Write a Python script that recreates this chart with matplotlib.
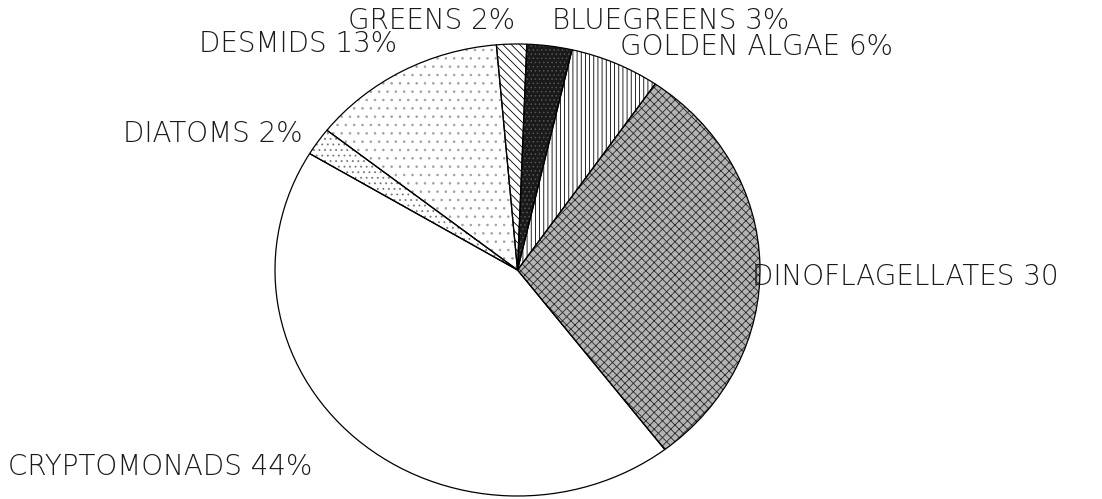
import matplotlib
matplotlib.use("Agg")
import matplotlib.pyplot as plt

categories = ["GREENS", "BLUEGREENS", "GOLDEN ALGAE", "DINOFLAGELLATES",
              "CRYPTOMONADS", "DIATOMS", "DESMIDS"]
values = [2, 3, 6, 30, 44, 2, 13]
labels = ["GREENS 2%", "BLUEGREENS 3%", "GOLDEN ALGAE 6%", "DINOFLAGELLATES 30",
          "CRYPTOMONADS 44%", "DIATOMS 2%", "DESMIDS 13%"]

faces = ["white", "#1a1a1a", "white", "#b4b4b4", "white", "white", "white"]
hatches = ["\\\\\\\\", "....", "||||", "xxxx", "", "...", ".."]
hatch_colors = ["black", "#555555", "black", "#2a2a2a", "white", "#777777", "#a0a0a0"]

plt.rcParams['hatch.linewidth'] = 0.6
W, H = 1102, 499
fig = plt.figure(figsize=(W / 100, H / 100), dpi=100)
ax = fig.add_axes([275 / W, 3 / H, 485 / W, 452 / H])

# base fills
base, _ = ax.pie(values, startangle=95, counterclock=False,
                 colors=faces, wedgeprops=dict(linewidth=0))
# hatch overlay
hat, _ = ax.pie(values, startangle=95, counterclock=False,
                wedgeprops=dict(linewidth=0, fill=False))
for w, h, c in zip(hat, hatches, hatch_colors):
    w.set_hatch(h)
    w.set_edgecolor(c)
    w.set_linewidth(0)
# outlines
outl, _ = ax.pie(values, startangle=95, counterclock=False,
                 wedgeprops=dict(linewidth=0.9, edgecolor="black", fill=False))

ax.set_aspect('auto')
ax.set_xlim(-1, 1)
ax.set_ylim(-1, 1)
ax.axis('off')

# label anchor (x px, baseline y px, alignment)
label_pos = [(515, 29, 'right'), (552, 29, 'left'), (620, 55, 'left'),
             (752, 285, 'left'), (8, 475, 'left'), (123, 142, 'left'),
             (397, 52, 'right')]
for lab, (px, py, ha) in zip(labels, label_pos):
    fig.text(px / W, 1 - py / H, lab, ha=ha, va='baseline',
             fontsize=20, family='DejaVu Sans', fontweight='light',
             color='#1a1a1a')

fig.savefig("out.png", dpi=100)
